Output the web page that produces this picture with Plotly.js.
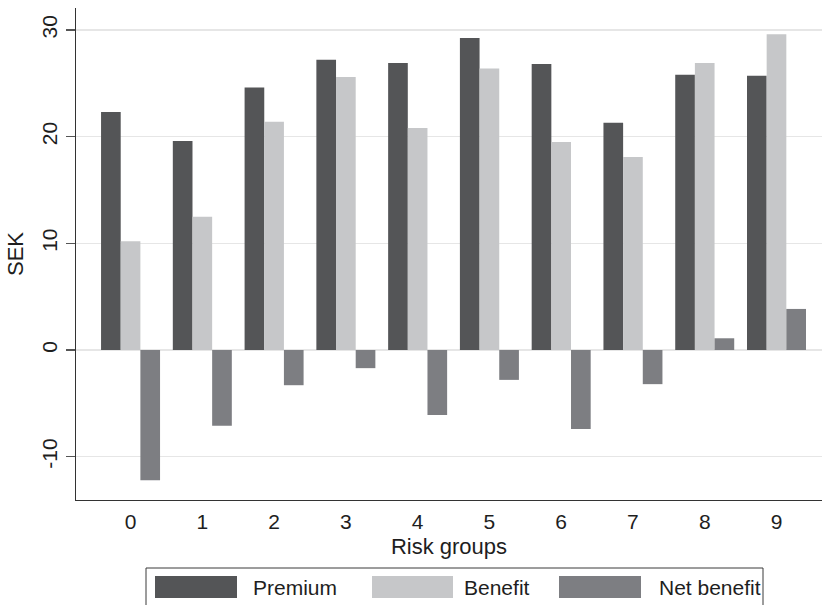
<!DOCTYPE html>
<html>
<head>
<meta charset="utf-8">
<script src="https://cdn.plot.ly/plotly-3.0.1.min.js"></script>
<style>
  html, body { margin: 0; padding: 0; background: #ffffff; }
  #chart { width: 822px; height: 605px; }
</style>
</head>
<body>
<div id="chart"></div>
<script>
// Risk groups on the horizontal axis
const riskGroups = [0, 1, 2, 3, 4, 5, 6, 7, 8, 9];

// Average amounts per risk group, in SEK
const premium    = [22.3, 19.6, 24.6, 27.2, 26.9, 29.25, 26.8, 21.3, 25.8, 25.7];
const benefit    = [10.2, 12.5, 21.4, 25.6, 20.8, 26.4, 19.5, 18.1, 26.9, 29.6];
const netBenefit = [-12.2, -7.1, -3.3, -1.7, -6.1, -2.8, -7.4, -3.2, 1.1, 3.85];

const seriesNames = ['Premium', 'Benefit', 'Net benefit'];
const yTicks = [-10, 0, 10, 20, 30];

const colors = ['#545557', '#c6c7c9', '#7d7e82'];
const fontFamily = '"Liberation Sans", Arial, Helvetica, sans-serif';
const textColor = '#1e1e1e';

// Plot area geometry (pixels)
const M = { l: 76, r: 0, t: 8, b: 105 };
const W = 822, H = 605;
const plotW = W - M.l - M.r;
const plotH = H - M.t - M.b;
const px = x => (x - M.l) / plotW;          // page x -> paper x
const py = y => (H - M.b - y) / plotH;      // page y -> paper y

const seriesValues = [premium, benefit, netBenefit];
const traces = seriesNames.map((name, i) => ({
  type: 'bar',
  name: name,
  x: riskGroups,
  y: seriesValues[i],
  marker: { color: colors[i], line: { width: 0 } },
  hoverinfo: 'x+y+name'
}));

// Legend drawn as a bordered box with wide swatches
const legendBox = { x0: 146, x1: 763, y0: 568, y1: 640 };
const swatches = [
  { x0: 155, x1: 237, textX: 251 },
  { x0: 372, x1: 453, textX: 462 },
  { x0: 559, x1: 641, textX: 657 }
];
const swY0 = 576, swY1 = 598;

const shapes = [{
  type: 'rect', xref: 'paper', yref: 'paper',
  x0: px(legendBox.x0), x1: px(legendBox.x1),
  y0: py(legendBox.y1), y1: py(legendBox.y0),
  line: { color: '#3a3a3a', width: 1 }, fillcolor: 'rgba(0,0,0,0)'
}];
const annotations = [];
swatches.forEach((s, i) => {
  shapes.push({
    type: 'rect', xref: 'paper', yref: 'paper',
    x0: px(s.x0), x1: px(s.x1), y0: py(swY1), y1: py(swY0),
    line: { width: 0 }, fillcolor: colors[i]
  });
  annotations.push({
    xref: 'paper', yref: 'paper',
    x: px(s.textX), y: py((swY0 + swY1) / 2),
    xanchor: 'left', yanchor: 'middle',
    text: seriesNames[i], showarrow: false,
    font: { family: fontFamily, size: 21, color: textColor }
  });
});

const layout = {
  width: W, height: H,
  margin: { l: M.l, r: M.r, t: M.t, b: M.b, autoexpand: false },
  paper_bgcolor: '#ffffff',
  plot_bgcolor: '#ffffff',
  barmode: 'group',
  bargap: 0.178,
  bargroupgap: 0,
  showlegend: false,
  font: { family: fontFamily, size: 21, color: textColor },
  xaxis: {
    range: [-0.76, 9.634],
    tickmode: 'array',
    tickvals: riskGroups,
    ticktext: riskGroups.map(String),
    ticks: '',
    ticklabelstandoff: 2,
    showgrid: false,
    zeroline: false,
    showline: true,
    linecolor: '#333333',
    linewidth: 1.3,
    tickfont: { family: fontFamily, size: 21, color: textColor },
    title: { text: 'Risk groups', standoff: 7,
             font: { family: fontFamily, size: 22, color: textColor } },
    fixedrange: true
  },
  yaxis: {
    range: [-14.06, 32.06],
    tickmode: 'array',
    tickvals: yTicks,
    ticktext: yTicks.map(String),
    tickangle: -90,
    ticks: 'outside',
    ticklen: 9,
    tickwidth: 1.3,
    tickcolor: '#555555',
    showgrid: true,
    gridcolor: '#e6e6e6',
    gridwidth: 1.6,
    zeroline: true,
    zerolinecolor: '#e6e6e6',
    zerolinewidth: 1.6,
    showline: true,
    linecolor: '#333333',
    linewidth: 1.3,
    tickfont: { family: fontFamily, size: 21, color: textColor },
    title: { text: 'SEK', standoff: 8,
             font: { family: fontFamily, size: 22, color: textColor } },
    fixedrange: true
  },
  shapes: shapes,
  annotations: annotations
};

Plotly.newPlot('chart', traces, layout, { displayModeBar: false, staticPlot: true });
</script>
</body>
</html>
